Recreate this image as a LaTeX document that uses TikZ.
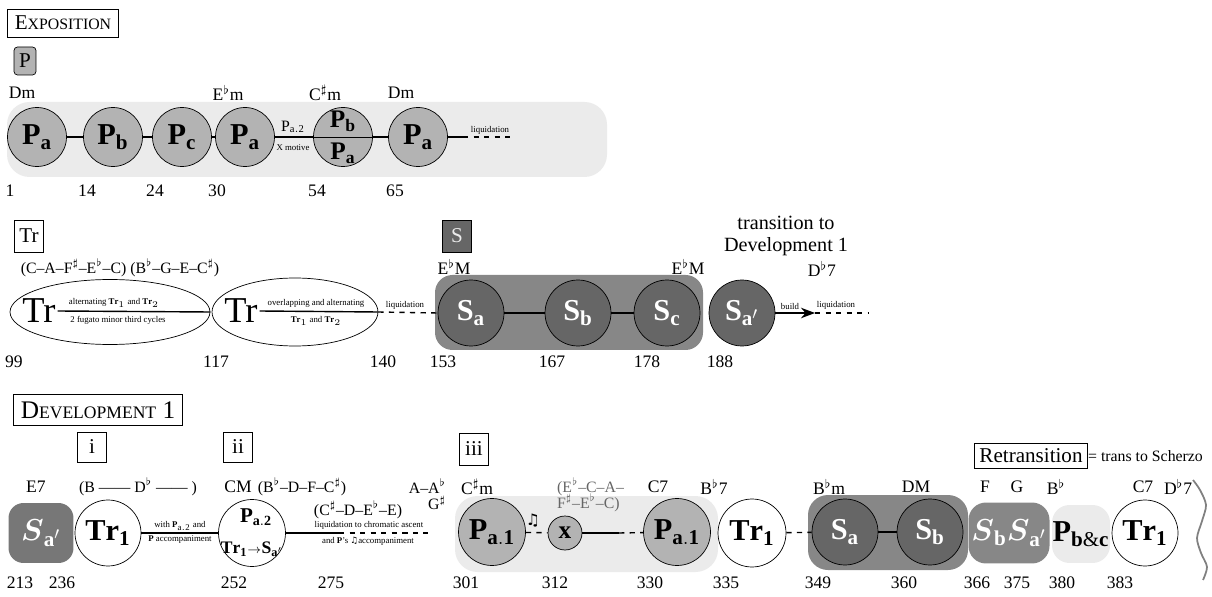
\documentclass[tikz,border=0pt]{standalone}
\usepackage{amsmath}
\usepackage{amssymb}
\usepackage{fontspec}
\usepackage{tikz}
\usetikzlibrary{shapes.geometric,arrows.meta}
\setmainfont{Liberation Serif}
\newfontfamily\notefont{DejaVu Sans}
\definecolor{bglight}{HTML}{EBEBEB}
\definecolor{pgrey}{HTML}{B3B3B3}
\definecolor{sgroup}{HTML}{878787}
\definecolor{sdark}{HTML}{666666}
\definecolor{sleft}{HTML}{777777}
\newcommand{\flt}{$^\flat$}
\newcommand{\shp}{$^\sharp$}
\newcommand{\thmB}[2]{$\mathbf{#1}_{\mathbf{#2}}$}
\newcommand{\thmI}[2]{$\boldsymbol{#1}_{\mathbf{#2}}$}

\begin{document}
\begin{tikzpicture}[x=0.02cm, y=-0.02cm,
    every node/.style={inner sep=1pt},
    secbox/.style={draw, font=\Large, inner sep=3pt},
    keybox/.style={draw, minimum width=0.58cm, minimum height=0.6cm, font=\large, inner sep=0pt},
    lbl/.style={font=\normalsize},
    pset/.style={font=\small},
    tinytxt/.style={font=\fontsize{5}{6}\selectfont},
    pcirc/.style={circle, draw, fill=pgrey, minimum size=1.18cm, inner sep=0pt, font=\LARGE},
    scirc/.style={circle, draw, fill=sdark, text=white, minimum size=1.32cm, inner sep=0pt, font=\LARGE},
    wcirc/.style={circle, draw, fill=white, minimum size=1.32cm, inner sep=0pt, font=\LARGE},
    trell/.style={ellipse, draw, fill=white, inner sep=0pt},
    conn/.style={line width=0.8pt},
    dconn/.style={line width=0.8pt, dashed}]
  \useasboundingbox (0,0) rectangle (1212,597);

  % ---- exposition, P
  \node[secbox, font=\large, inner sep=4pt] (expo) at (63,23) {E{\small XPOSITION}};
  \node[keybox, fill=pgrey, rounded corners=2pt, minimum width=0.44cm, minimum height=0.56cm] (pkey) at (25,61) {P};
  \fill[bglight, rounded corners=0.45cm] (7,102) rectangle (607,177);
  \node[lbl] (k1) at (22,93) {Dm};
  \node[lbl] (k2) at (228,93) {E\flt m};
  \node[lbl] (k3) at (325,93) {C\shp m};
  \node[lbl] (k4) at (401,93) {Dm};
  \node[pcirc] (pa1) at (37,137) {\thmB{P}{a}};
  \node[pcirc] (pb) at (113,137) {\thmB{P}{b}};
  \node[pcirc] (pc) at (182,137) {\thmB{P}{c}};
  \node[pcirc] (pa2) at (245,137) {\thmB{P}{a}};
  \node[pcirc] (pab) at (343,137) {};
  \node[font=\Large] (pabt) at (343,121) {\thmB{P}{b}};
  \node[font=\Large] (pabb) at (343,153) {\thmB{P}{a}};
  \node[pcirc] (pa3) at (418,137) {\thmB{P}{a}};
  \coordinate (liqa) at (463,137);
  \coordinate (liqb) at (512,137);
  \draw[conn] (pa1) -- (pb);
  \draw[conn] (pb) -- (pc);
  \draw[conn] (pc) -- (pa2);
  \draw[conn] (pa2) -- (pab);
  \draw (pab.west) -- (pab.east);
  \draw[conn] (pab) -- (pa3);
  \draw[conn] (pa3) -- (liqa);
  \draw[dconn] (liqa) -- (liqb);
  \node[font=\small] (pa2lbl) at (293,127) {$\mathrm{P}_{\mathrm{a.2}}$};
  \node[tinytxt] (xmot) at (293,148) {X motive};
  \node[tinytxt] (liq1) at (490,130) {liquidation};
  \node[lbl] (n1) at (10,191) {1};
  \node[lbl] (n14) at (87,191) {14};
  \node[lbl] (n24) at (155,191) {24};
  \node[lbl] (n30) at (217,191) {30};
  \node[lbl] (n54) at (317,191) {54};
  \node[lbl] (n65) at (395,191) {65};

  % ---- transition
  \node[keybox, minimum height=0.64cm] (trkey) at (29,236) {Tr};
  \node[pset] (trset) at (120,268) {(C--A--F\shp--E\flt--C) (B\flt--G--E--C\shp)};
  \node[trell, minimum width=4cm, minimum height=1.3cm] (tra) at (110,312) {};
  \node[trell, minimum width=3.32cm, minimum height=1.36cm] (trb) at (295,312) {};
  \node[font=\huge] (trta) at (39,311) {Tr};
  \node[font=\huge] (trtb) at (241,311) {Tr};
  \draw[conn] (trta.east) -- (tra.east);
  \draw[conn] (trtb.east) -- (trb.east);
  \node[tinytxt] (alt1) at (114,303) {alternating $\mathbf{Tr}_1$ and $\mathbf{Tr}_2$};
  \node[tinytxt] (alt2) at (118,320) {2 fugato minor third cycles};
  \node[tinytxt] (ovl1) at (316,303) {overlapping and alternating};
  \node[tinytxt] (ovl2) at (316,321) {$\mathbf{Tr}_1$ and $\mathbf{Tr}_2$};

  % ---- S group
  \node[keybox, fill=sdark, text=bglight, minimum height=0.64cm] (skey) at (457,236) {S};
  \fill[sgroup, rounded corners=0.35cm] (435,275) rectangle (703,350);
  \node[lbl] (k5) at (454,267) {E\flt M};
  \node[lbl] (k6) at (688,267) {E\flt M};
  \node[scirc] (sa) at (471,313) {\thmB{S}{a}};
  \node[scirc] (sb) at (578,313) {\thmB{S}{b}};
  \node[scirc] (sc) at (667,313) {\thmB{S}{c}};
  \node[scirc] (sap) at (742,313) {\thmB{S}{a'}};
  \draw[dconn] (trb.east) -- (sa.west);
  \node[tinytxt] (liq2) at (405,305) {liquidation};
  \draw[conn] (sa) -- (sb);
  \draw[conn] (sb) -- (sc);
  \coordinate (bld) at (815,313);
  \coordinate (liqc) at (868,313);
  \draw[conn, -{Stealth[length=8pt, width=6pt]}] (sap) -- (bld);
  \draw[dconn] (bld) -- (liqc);
  \node[tinytxt] (bldt) at (790,306) {build};
  \node[tinytxt] (liq3) at (836,305) {liquidation};
  \node[align=center, font=\fontsize{11.5}{13}\selectfont] (trans) at (786,236) {transition to\\Development 1};
  \node[lbl] (k7) at (822,269) {D\flt7};
  \node[lbl] (n99) at (14,362) {99};
  \node[lbl] (n117) at (216,362) {117};
  \node[lbl] (n140) at (383,362) {140};
  \node[lbl] (n153) at (443,362) {153};
  \node[lbl] (n167) at (552,362) {167};
  \node[lbl] (n178) at (647,362) {178};
  \node[lbl] (n188) at (720,362) {188};

  % ---- development 1
  \node[secbox, font=\Large, inner sep=4pt] (devt) at (98,410) {D{\normalsize EVELOPMENT} 1};
  \node[keybox] (ki) at (92,447) {i};
  \node[keybox] (kii) at (238,447) {ii};
  \node[keybox, minimum height=0.64cm] (kiii) at (474,449) {iii};
  \node[lbl] (k8) at (36,487) {E7};
  \node[pset] (k9) at (138,487) {(B ------ D\flt{} ------ )};
  \node[lbl] (k10) at (238,487) {CM};
  \node[pset] (k11) at (302,487) {(B\flt--D--F--C\shp)};
  \node[rectangle, rounded corners=0.3cm, fill=sleft, text=white, minimum width=1.3cm, minimum height=1.2cm, font=\LARGE] (sleft) at (41,533) {\thmI{S}{a'}};
  \node[wcirc] (tr1a) at (108,533) {\thmB{Tr}{1}};
  \node[wcirc, minimum size=1.34cm] (ii) at (252,533) {};
  \node[font=\large] (iit) at (256,517) {\thmB{P}{a.2}};
  \node[font=\normalsize] (iib) at (252,549) {\thmB{Tr}{1}{\scriptsize$\rightarrow$}\thmB{S}{a'}};
  \draw[conn] (tr1a) -- (ii);
  \node[tinytxt] (with1) at (180,526) {with $\mathbf{P}_{\mathrm{a.2}}$ and};
  \node[tinytxt] (with2) at (180,540) {$\mathbf{P}$ accompaniment};
  \coordinate (chra) at (339,533);
  \coordinate (chrb) at (428,533);
  \draw[conn] (ii) -- (chra);
  \draw[dconn] (chra) -- (chrb);
  \node[pset] (k12) at (358,510) {(C\shp--D--E\flt--E)};
  \node[tinytxt] (chr1) at (369,525) {liquidation to chromatic ascent};
  \node[tinytxt] (chr2) at (368,541) {and $\mathbf{P}$'s {\notefont ♫}accompaniment};
  \node[pset, anchor=east] (k13) at (448,486) {A--A\flt};
  \node[pset, anchor=east] (k14) at (448,503) {G\shp};

  % iii
  \fill[bglight, rounded corners=0.45cm] (455,496) rectangle (718,572);
  \node[lbl] (k15) at (477,487) {C\shp m};
  \node[pcirc, minimum size=1.34cm, font=\LARGE] (pa1a) at (492,532) {\thmB{P}{a.1}};
  \node[font=\small] (note) at (533,521) {\notefont ♫};
  \node[pcirc, minimum size=0.68cm, font=\Large] (xc) at (565,533) {$\mathbf{x}$};
  \node[pcirc, minimum size=1.34cm, font=\LARGE] (pa1b) at (677,532) {\thmB{P}{a.1}};
  \coordinate (xlin) at (619,533);
  \draw[dconn] (pa1a) -- (xc);
  \draw[conn] (xc) -- (xlin);
  \draw[dconn] (xlin) -- (pa1b);
  \node[pset, text=black!60, anchor=west] (k16) at (555,487) {(E\flt--C--A--};
  \node[pset, text=black!60, anchor=west] (k17) at (555,503) {F\shp--E\flt--C)};
  \node[lbl] (k18) at (658,487) {C7};
  \node[lbl] (k19) at (714,487) {B\flt7};
  \node[wcirc, minimum size=1.36cm] (tr1b) at (752,533) {\thmB{Tr}{1}};

  % S again
  \fill[sgroup, rounded corners=0.4cm] (808,495) rectangle (968,570);
  \node[lbl] (k20) at (829,487) {B\flt m};
  \node[lbl] (k21) at (916,487) {DM};
  \node[scirc] (sa3) at (845,532) {\thmB{S}{a}};
  \node[scirc] (sb3) at (930,532) {\thmB{S}{b}};
  \draw[dconn] (tr1b) -- (sa3);
  \draw[conn] (sa3) -- (sb3);

  % retransition
  \node[secbox, font=\large] (retr) at (1031,456) {Retransition};
  \node[font=\small, anchor=west] (retrt) at (1086,456) {= trans to Scherzo};
  \node[rectangle, rounded corners=0.35cm, fill=sgroup, text=white, minimum width=1.62cm, minimum height=1.22cm, font=\LARGE] (sbsa) at (1009,533) {\thmI{S}{b}\thmI{S}{a'}};
  \node[rectangle, rounded corners=0.35cm, fill=bglight, minimum width=1.16cm, minimum height=1.16cm, inner sep=0pt, font=\LARGE] (pbc) at (1081,534) {\thmB{P}{b\&c}};
  \node[wcirc] (tr1c) at (1145,533) {\thmB{Tr}{1}};
  \node[lbl] (k22) at (985,487) {F};
  \node[lbl] (k23) at (1017,487) {G};
  \node[lbl] (k24) at (1056,487) {B\flt};
  \node[lbl] (k25) at (1143,487) {C7};
  \node[lbl] (k26) at (1178,487) {D\flt7};
  \draw[gray, line width=1pt] plot[smooth] coordinates {(1193,480) (1200,490) (1206,505) (1202,521) (1197,538) (1201,553) (1207,567) (1203,580)};

  \node[lbl] (n213) at (20,583) {213};
  \node[lbl] (n236) at (62,583) {236};
  \node[lbl] (n252) at (234,583) {252};
  \node[lbl] (n275) at (331,583) {275};
  \node[lbl] (n301) at (466,583) {301};
  \node[lbl] (n312) at (555,583) {312};
  \node[lbl] (n330) at (650,583) {330};
  \node[lbl] (n335) at (726,583) {335};
  \node[lbl] (n349) at (818,583) {349};
  \node[lbl] (n360) at (904,583) {360};
  \node[lbl] (n366) at (977,583) {366};
  \node[lbl] (n375) at (1017,583) {375};
  \node[lbl] (n380) at (1062,583) {380};
  \node[lbl] (n383) at (1120,583) {383};
\end{tikzpicture}
\end{document}
